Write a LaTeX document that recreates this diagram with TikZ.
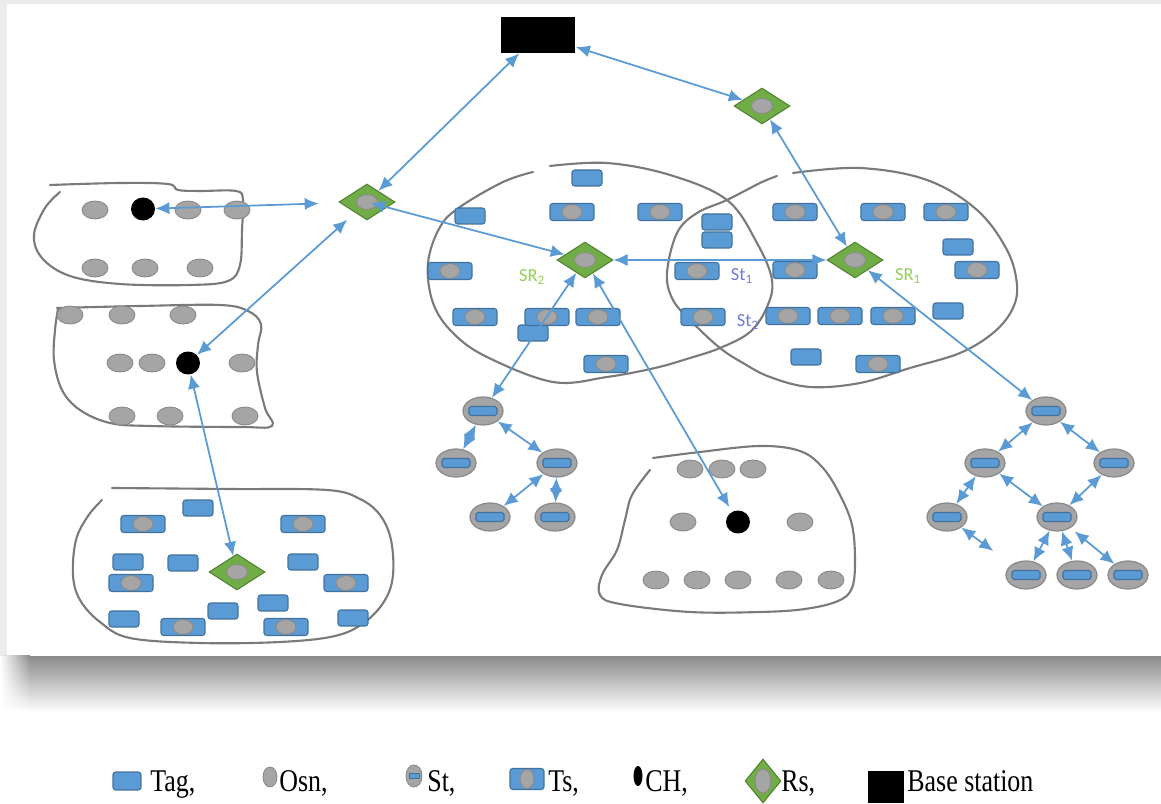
\documentclass[tikz,border=0pt]{standalone}
\usepackage{graphicx}
\usepackage{fontspec}
\setmainfont{Liberation Serif}
\newfontfamily\carlito{Carlito}
\usetikzlibrary{shapes.geometric,arrows.meta,fadings}
\definecolor{tagf}{HTML}{5B9BD5}
\definecolor{tagb}{HTML}{41719C}
\definecolor{osnf}{HTML}{A5A5A5}
\definecolor{osnb}{HTML}{8A8A8A}
\definecolor{rsf}{HTML}{70AD47}
\definecolor{rsb}{HTML}{548235}
\definecolor{arrc}{HTML}{5B9BD5}
\definecolor{clc}{HTML}{7A7A7A}
\definecolor{srg}{HTML}{92D050}
\definecolor{stc}{HTML}{6F7AD8}
\definecolor{frame}{HTML}{ECECEC}
\definecolor{shd}{HTML}{8A8A8A}
\tikzset{
  tag/.style={draw=tagb, fill=tagf, rounded corners=1.5pt, minimum width=0.6cm, minimum height=0.32cm, inner sep=0pt, line width=0.6pt},
  osn/.style={ellipse, draw=osnb, fill=osnf, minimum width=0.52cm, minimum height=0.36cm, inner sep=0pt, line width=0.5pt},
  chn/.style={ellipse, fill=black, minimum width=0.48cm, minimum height=0.46cm, inner sep=0pt},
  tsn/.style={tag, minimum width=0.88cm, minimum height=0.34cm,
    path picture={\fill[osnf, draw=osnb, line width=0.5pt] (path picture bounding box.center) ellipse (0.2cm and 0.15cm);}},
  stn/.style={osn, minimum width=0.8cm, minimum height=0.56cm, line width=0.7pt,
    path picture={\draw[tagb, fill=tagf, rounded corners=1pt, line width=0.6pt] ([xshift=-0.28cm,yshift=-0.09cm]path picture bounding box.center) rectangle ([xshift=0.28cm,yshift=0.09cm]path picture bounding box.center);}},
  rsn/.style={diamond, draw=rsb, fill=rsf, minimum width=1.12cm, minimum height=0.72cm, inner sep=0pt, aspect=1.55, line width=0.6pt,
    path picture={\fill[osnf, draw=osnb, line width=0.5pt] (path picture bounding box.center) ellipse (0.21cm and 0.15cm);}},
  basen/.style={fill=black, minimum width=1.5cm, minimum height=0.72cm, inner sep=0pt},
  cl/.style={draw=clc, line width=1.2pt, line cap=round, line join=round},
  arr/.style={draw=arrc, line width=1pt, >={Latex[length=8pt,width=7pt]}, <->},
  sub/.style={font=\carlito\fontsize{10.5pt}{12pt}\selectfont},
  leg/.style={anchor=base west, inner sep=0pt, font=\fontsize{18pt}{20pt}\selectfont}
}
\begin{document}
\begin{tikzpicture}[x=0.02cm, y=-0.02cm]
\useasboundingbox (0,0) rectangle (1161,804);
% panel and shadow
\fill[frame] (0,0) rectangle (1161,656);
\fill[white] (7,4) rectangle (1161,656);
\shade[top color=shd, bottom color=white] (30,656) rectangle (1161,712);
\shade[top color=shd, bottom color=white, path fading=west] (0,656) rectangle (30,712);

% cluster outlines
\draw[cl] plot[smooth, tension=0.6] coordinates {(60,192) (45,208) (34,235) (42,258) (70,276) (120,284) (190,285) (228,281) (240,265) (242,230) (243,200) (236,191) (200,191) (178,190) (168,184) (120,183) (50,185)};
\draw[cl] plot[smooth, tension=0.6] coordinates {(57,308) (140,306) (220,305) (248,311) (261,324) (258,345) (257,372) (265,408) (272,426) (240,427) (150,426) (110,423) (80,410) (62,390) (54,360) (55,330) (58,309)};
\draw[cl] plot[smooth, tension=0.6] coordinates {(102,500) (88,516) (76,540) (73,575) (80,600) (100,622) (130,638) (200,643) (280,642) (335,636) (365,622) (385,600) (393,575) (391,540) (380,515) (360,499) (327,490) (230,489) (112,488)};
\draw[cl] plot[smooth, tension=0.6] coordinates {(650,470) (632,495) (625,520) (617,550) (602,575) (600,595) (620,604) (690,612) (760,612) (805,609) (838,601) (852,588) (855,560) (852,525) (840,495) (823,468) (800,451) (760,446) (700,452) (653,458)};
\draw[cl] plot[smooth, tension=0.6] coordinates {(550,166) (607,163) (670,175) (727,200) (757,243) (772,280) (767,307) (750,332) (720,348) (690,358) (655,368) (607,377) (553,382) (487,357) (453,333) (433,303) (428,263) (440,227) (460,207) (503,182) (533,172)};
\draw[cl] plot[smooth, tension=0.6] coordinates {(793,173) (860,168) (927,180) (977,210) (1007,250) (1017,285) (1012,310) (993,333) (960,353) (910,368) (860,383) (810,387) (770,377) (743,363) (720,348) (693,323) (673,300) (667,273) (677,233) (697,213) (727,200) (760,183) (777,176)};

% tags
\foreach \x/\y [count=\i] in {587/178, 470/216, 717/222, 717/240, 533/333, 958/247, 948/311, 806/357, 198/508, 128/562, 183/563, 303/562, 273/603, 223/611, 124/619, 353/618}
  \node[tag] (tg\i) at (\x,\y) {};
% ts
\foreach \x/\y [count=\i] in {572/212, 660/212, 450/271, 697/271, 475/317, 547/317, 598/317, 703/317, 606/364, 795/212, 883/212, 946/212, 795/270, 977/270, 788/316, 840/316, 893/316, 878/364, 143/524, 303/524, 131/583, 346/583, 183/627, 286/627}
  \node[tsn] (ts\i) at (\x,\y) {};
% osn
\foreach \x/\y [count=\i] in {95/210, 188/210, 237/210, 95/268, 145/268, 200/268, 70/315, 122/315, 183/315, 120/363, 152/363, 242/363, 122/416, 170/416, 245/416, 690/469, 722/469, 753/469, 683/522, 800/522, 656/580, 697/580, 738/580, 789/580, 831/580}
  \node[osn] (os\i) at (\x,\y) {};
% cluster heads
\node[chn] (ch1) at (143,209) {};
\node[chn] (ch2) at (188,363) {};
\node[chn] (ch3) at (738,522) {};
% relays and base
\node[basen] (base) at (538,35) {};
\node[rsn] (rsTR) at (762,106) {};
\node[rsn] (rsL) at (367,202) {};
\node[rsn] (rs2) at (585,260) {};
\node[rsn] (rs1) at (855,260) {};
\node[rsn] (rsB) at (237,572) {};
% labels
\node[sub, text=srg] (lsr2) at (532,277) {SR\textsubscript{2}};
\node[sub, text=srg] (lsr1) at (908,276) {SR\textsubscript{1}};
\node[sub, text=stc] (lst1) at (742,276) {St\textsubscript{1}};
\node[sub, text=stc] (lst2) at (748,322) {St\textsubscript{2}};

% trees
\node[stn] (lt0) at (483,411) {};
\node[stn] (lt1) at (456,463) {};
\node[stn] (lt2) at (557,463) {};
\node[stn] (lt3) at (490,517) {};
\node[stn] (lt4) at (555,517) {};
\node[stn] (rt0) at (1046,411) {};
\node[stn] (rt1) at (985,463) {};
\node[stn] (rt2) at (1114,463) {};
\node[stn] (rt3) at (947,517) {};
\node[stn] (rt4) at (1057,517) {};
\node[stn] (rt5) at (1026,575) {};
\node[stn] (rt6) at (1077,575) {};
\node[stn] (rt7) at (1128,575) {};

% connectors
\draw[arr] (base) -- (rsL);
\draw[arr] (base) -- (rsTR);
\draw[arr] (rsTR) -- (rs1);
\draw[arr, shorten <=2pt] (rsL.center) -- (rs2);
\draw[arr] (rs2) -- (rs1);
\draw[arr, shorten >=12pt] (ch1) -- (rsL);
\draw[arr, shorten <=6pt] (rsL) -- (ch2);
\draw[arr] (ch2) -- (rsB);
\draw[arr] (rs2) -- (lt0);
\draw[arr, shorten >=3pt] (rs2) -- (ch3);
\draw[arr] (rs1) -- (rt0);
\draw[arr] (lt0) -- (lt1);
\draw[arr] (lt0) -- (lt2);
\draw[arr] (lt2) -- (lt3);
\draw[arr] (lt2) -- (lt4);
\draw[arr] (rt0) -- (rt1);
\draw[arr] (rt0) -- (rt2);
\draw[arr] (rt1) -- (rt3);
\draw[arr] (rt1) -- (rt4);
\draw[arr] (rt2) -- (rt4);
\draw[arr, shorten >=13pt] (rt3) -- (rt5);
\draw[arr] (rt4) -- (rt5);
\draw[arr] (rt4) -- (rt6);
\draw[arr, shorten <=3pt] (rt4) -- (rt7);

% legend
\node[tag, minimum width=0.56cm, minimum height=0.36cm] (lgTag) at (127,781) {};
\node[leg] (lgTagT) at (150,791) {\scalebox{0.82}[1]{Tag,}};
\node[osn, minimum width=0.28cm, minimum height=0.4cm] (lgOsn) at (270,777) {};
\node[leg] (lgOsnT) at (279,791) {\scalebox{0.82}[1]{Osn,}};
\node[osn, minimum width=0.32cm, minimum height=0.44cm,
  path picture={\draw[tagb, fill=tagf, line width=0.5pt] ([xshift=-0.1cm,yshift=-0.05cm]path picture bounding box.center) rectangle ([xshift=0.1cm,yshift=0.05cm]path picture bounding box.center);}] (lgSt) at (414,776) {};
\node[leg] (lgStT) at (427,791) {\scalebox{0.82}[1]{St,}};
\node[tag, minimum width=0.68cm, minimum height=0.42cm,
  path picture={\fill[osnf, draw=osnb, line width=0.5pt] (path picture bounding box.center) ellipse (0.14cm and 0.19cm);}] (lgTs) at (527,779) {};
\node[leg] (lgTsT) at (548,791) {\scalebox{0.82}[1]{Ts,}};
\node[ellipse, fill=black, minimum width=0.18cm, minimum height=0.4cm, inner sep=0pt] (lgCH) at (638,776) {};
\node[leg] (lgCHT) at (645,791) {\scalebox{0.82}[1]{CH,}};
\node[diamond, draw=rsb, fill=rsf, minimum width=0.72cm, minimum height=0.88cm, inner sep=0pt, aspect=0.8, line width=0.6pt,
  path picture={\fill[osnf, draw=osnb, line width=0.5pt] (path picture bounding box.center) ellipse (0.16cm and 0.24cm);}] (lgRs) at (763,781) {};
\node[leg] (lgRsT) at (781,791) {\scalebox{0.82}[1]{Rs,}};
\node[fill=black, minimum width=0.72cm, minimum height=0.64cm, inner sep=0pt] (lgBase) at (886,787) {};
\node[leg] (lgBaseT) at (907,791) {\scalebox{0.82}[1]{Base station}};
\end{tikzpicture}
\end{document}
